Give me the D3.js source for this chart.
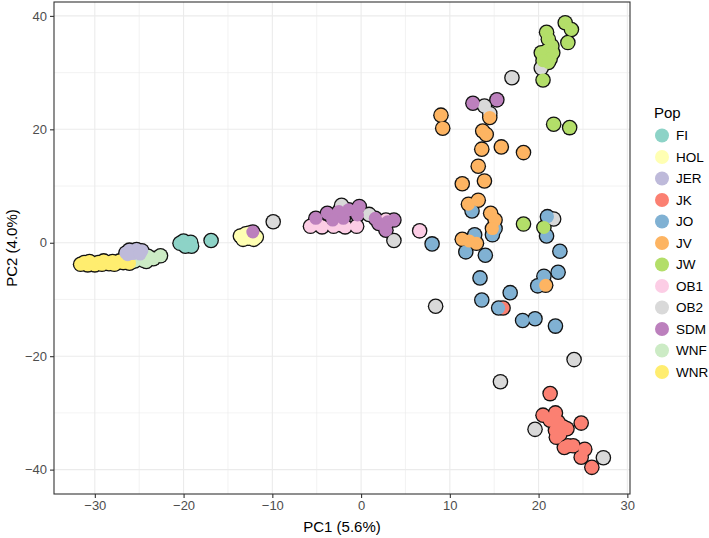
<!DOCTYPE html>
<html>
<head>
<meta charset="utf-8">
<script src="https://cdn.jsdelivr.net/npm/d3@7"></script>
<style>
  body { margin: 0; background: #fff; }
  text { font-family: "Liberation Sans", Arial, sans-serif; }
</style>
</head>
<body>
<svg id="chart" width="709" height="538"></svg>
<script>
// population names and Set3 colours
var pops = ["FI", "HOL", "JER", "JK", "JO", "JV", "JW", "OB1", "OB2", "SDM", "WNF", "WNR"];
var popColors = ["#8DD3C7", "#FFFFB3", "#BEBADA", "#FB8072", "#80B1D3", "#FDB462",
                 "#B3DE69", "#FCCDE5", "#D9D9D9", "#BC80BD", "#CCEBC5", "#FFED6F"];

var xTicks = [-30, -20, -10, 0, 10, 20, 30];
var yTicks = [-40, -20, 0, 20, 40];

// PC1, PC2 per population
var FI = [[-20.4,-0.1],[-20.0,0.3],[-19.6,-0.4],[-19.2,0.1],[-19.1,-0.6],[-19.8,-0.6],[-16.9,0.4]];
var HOL = [[-13.6,1.2],[-13.3,0.6],[-13.0,1.6],[-12.7,0.8],[-12.4,1.3],[-12.1,0.6],[-11.8,1.0],[-12.6,1.7]];
var JER = [[-26.5,-1.8],[-26.1,-1.3],[-25.7,-1.9],[-25.3,-1.2],[-25.0,-1.7],[-24.7,-1.4],[-25.8,-1.5],[-26.3,-2.1],[-24.9,-2.0]];
var JK = [[16.0,-11.5],[21.3,-26.6],[20.5,-30.4],[21.9,-30.0],[24.8,-31.8],[21.3,-31.3],[22.2,-31.6],
          [22.8,-32.5],[21.9,-33.1],[23.2,-32.8],[22.4,-33.8],[22.0,-34.3],[23.3,-35.8],[23.9,-35.8],
          [22.9,-36.1],[25.2,-36.4],[24.8,-37.8],[26.0,-39.6]];
var JO = [[8.0,-0.2],[12.5,5.6],[15.1,2.5],[14.8,1.4],[12.8,1.4],[11.8,-1.6],[14.0,-2.2],[21.0,4.6],
          [20.9,1.2],[22.4,-1.5],[22.2,-5.2],[20.6,-5.9],[19.9,-7.6],[13.4,-6.2],[16.8,-8.8],[13.6,-10.1],
          [15.5,-11.5],[18.2,-13.7],[19.6,-13.4],[21.9,-14.7]];
var JV = [[9.0,22.5],[9.2,20.2],[14.5,22.1],[13.7,19.7],[14.1,19.1],[13.6,16.5],[15.8,16.9],[18.3,15.9],
          [13.2,13.5],[11.4,10.4],[13.9,10.9],[12.1,6.8],[13.2,7.5],[14.6,5.2],[15.1,4.0],[14.8,2.5],
          [11.4,0.6],[12.2,0.3],[13.0,-0.1],[20.8,-7.5]];
var JW = [[23.0,38.8],[23.7,37.6],[23.3,35.3],[20.9,37.1],[21.1,35.9],[21.5,34.7],[20.9,33.8],[20.3,33.5],
          [21.6,33.5],[21.3,32.4],[20.5,32.1],[21.1,31.8],[20.5,28.7],[21.7,20.9],[23.5,20.3],[18.3,3.3],[20.6,2.7]];
var OB1 = [[-5.7,2.9],[-4.4,2.8],[-3.1,2.9],[-1.8,2.8],[-0.5,2.9],[-4.9,3.3],[-2.4,3.2],[2.8,4.0],[6.6,2.1]];
var OB2 = [[-9.9,3.7],[-2.2,6.6],[0.9,5.0],[3.7,0.4],[8.4,-11.2],[13.9,24.1],[14.5,22.8],[17.0,29.1],
           [20.3,30.8],[21.7,4.2],[24.0,-20.6],[15.7,-24.5],[19.6,-32.9],[27.3,-37.9]];
var SDM = [[-12.2,1.9],[-5.1,4.3],[-3.8,5.2],[-2.5,5.5],[-1.4,5.8],[-0.2,6.4],[-0.4,4.9],[-2.0,4.3],
           [-3.2,4.0],[1.6,4.3],[3.0,3.7],[3.7,4.0],[2.8,2.2],[2.0,3.4],[12.6,24.6],[15.3,25.2]];
var WNF = [[-22.6,-2.3],[-23.4,-2.8],[-24.0,-2.4],[-24.5,-3.1],[-25.0,-2.8],[-25.5,-3.2],[-24.2,-3.3],[-26.3,-2.6],[-25.9,-3.4]];
var WNR = [[-31.6,-3.8],[-31.2,-3.5],[-30.8,-3.9],[-30.4,-3.6],[-30.0,-3.9],[-29.6,-3.5],[-29.2,-3.8],
           [-28.8,-3.4],[-28.4,-3.7],[-28.0,-3.3],[-27.6,-3.6],[-27.2,-3.2],[-26.8,-3.5],[-26.5,-3.0],
           [-26.1,-3.6],[-29.0,-3.2],[-30.6,-3.3],[-27.8,-3.8]];

var byPop = {FI: FI, HOL: HOL, JER: JER, JK: JK, JO: JO, JV: JV, JW: JW,
             OB1: OB1, OB2: OB2, SDM: SDM, WNF: WNF, WNR: WNR};
var drawOrder = ["WNF", "WNR", "JER", "FI", "HOL", "OB1", "OB2", "SDM", "JK", "JO", "JV", "JW"];

var points = [];
drawOrder.forEach(function(p) {
  byPop[p].forEach(function(d) { points.push({pop: p, x: d[0], y: d[1]}); });
});

var panel = {left: 54, right: 630, top: 2, bottom: 494};

var x = d3.scaleLinear().domain([-34.6, 30.3]).range([panel.left, panel.right]);
var y = d3.scaleLinear().domain([-44.3, 42.45]).range([panel.bottom, panel.top]);
var color = d3.scaleOrdinal().domain(pops).range(popColors);

var svg = d3.select("#chart");

svg.append("clipPath").attr("id", "clip")
  .append("rect")
  .attr("x", panel.left).attr("y", panel.top)
  .attr("width", panel.right - panel.left).attr("height", panel.bottom - panel.top);

// grid
var grid = svg.append("g");
var xMinor = d3.range(-25, 30, 10);
var yMinor = [-30, -10, 10, 30];
grid.selectAll(".vminor").data(xMinor).enter().append("line")
  .attr("x1", x).attr("x2", x).attr("y1", panel.top).attr("y2", panel.bottom)
  .attr("stroke", "#EBEBEB").attr("stroke-width", 0.6);
grid.selectAll(".hminor").data(yMinor).enter().append("line")
  .attr("y1", y).attr("y2", y).attr("x1", panel.left).attr("x2", panel.right)
  .attr("stroke", "#EBEBEB").attr("stroke-width", 0.6);
grid.selectAll(".vmajor").data(xTicks).enter().append("line")
  .attr("x1", x).attr("x2", x).attr("y1", panel.top).attr("y2", panel.bottom)
  .attr("stroke", "#EBEBEB").attr("stroke-width", 1.1);
grid.selectAll(".hmajor").data(yTicks).enter().append("line")
  .attr("y1", y).attr("y2", y).attr("x1", panel.left).attr("x2", panel.right)
  .attr("stroke", "#EBEBEB").attr("stroke-width", 1.1);

// points: black layer first, fills on top so the outline merges
var marks = svg.append("g").attr("clip-path", "url(#clip)");
marks.selectAll(".outline").data(points).enter().append("circle")
  .attr("cx", function(d) { return x(d.x); })
  .attr("cy", function(d) { return y(d.y); })
  .attr("r", 7.8)
  .attr("fill", "#111");
marks.selectAll(".dot").data(points).enter().append("circle")
  .attr("cx", function(d) { return x(d.x); })
  .attr("cy", function(d) { return y(d.y); })
  .attr("r", 6.5)
  .attr("fill", function(d) { return color(d.pop); });

// panel border
svg.append("rect")
  .attr("x", panel.left).attr("y", panel.top)
  .attr("width", panel.right - panel.left).attr("height", panel.bottom - panel.top)
  .attr("fill", "none").attr("stroke", "#333").attr("stroke-width", 1.1);

// axes
var xAxis = d3.axisBottom(x).tickValues(xTicks).tickSize(4).tickPadding(3);
var yAxis = d3.axisLeft(y).tickValues(yTicks).tickSize(4).tickPadding(3);

svg.append("g").attr("transform", "translate(0," + panel.bottom + ")").call(xAxis)
  .call(function(g) { g.select(".domain").remove(); });
svg.append("g").attr("transform", "translate(" + panel.left + ",0)").call(yAxis)
  .call(function(g) { g.select(".domain").remove(); });

svg.selectAll(".tick line").attr("stroke", "#333").attr("stroke-width", 1.1);
svg.selectAll(".tick text")
  .attr("fill", "#4D4D4D")
  .style("font-size", "13px")
  .style("font-family", "'Liberation Sans', Arial, sans-serif");

svg.append("text")
  .attr("x", (panel.left + panel.right) / 2).attr("y", 532)
  .attr("text-anchor", "middle")
  .style("font-size", "15px")
  .text("PC1 (5.6%)");

svg.append("text")
  .attr("transform", "translate(17," + (panel.top + panel.bottom) / 2 + ") rotate(-90)")
  .attr("text-anchor", "middle")
  .style("font-size", "15px")
  .text("PC2 (4.0%)");

// legend
var legend = svg.append("g");
legend.append("text")
  .attr("x", 654).attr("y", 118)
  .style("font-size", "15px")
  .text("Pop");

var item = legend.selectAll(".key").data(pops).enter().append("g")
  .attr("transform", function(d, i) { return "translate(662," + (135.5 + i * 21.5) + ")"; });
item.append("circle").attr("r", 7).attr("fill", function(d) { return color(d); });
item.append("text")
  .attr("x", 14).attr("dy", "0.36em")
  .style("font-size", "13.5px")
  .text(function(d) { return d; });
</script>
</body>
</html>
